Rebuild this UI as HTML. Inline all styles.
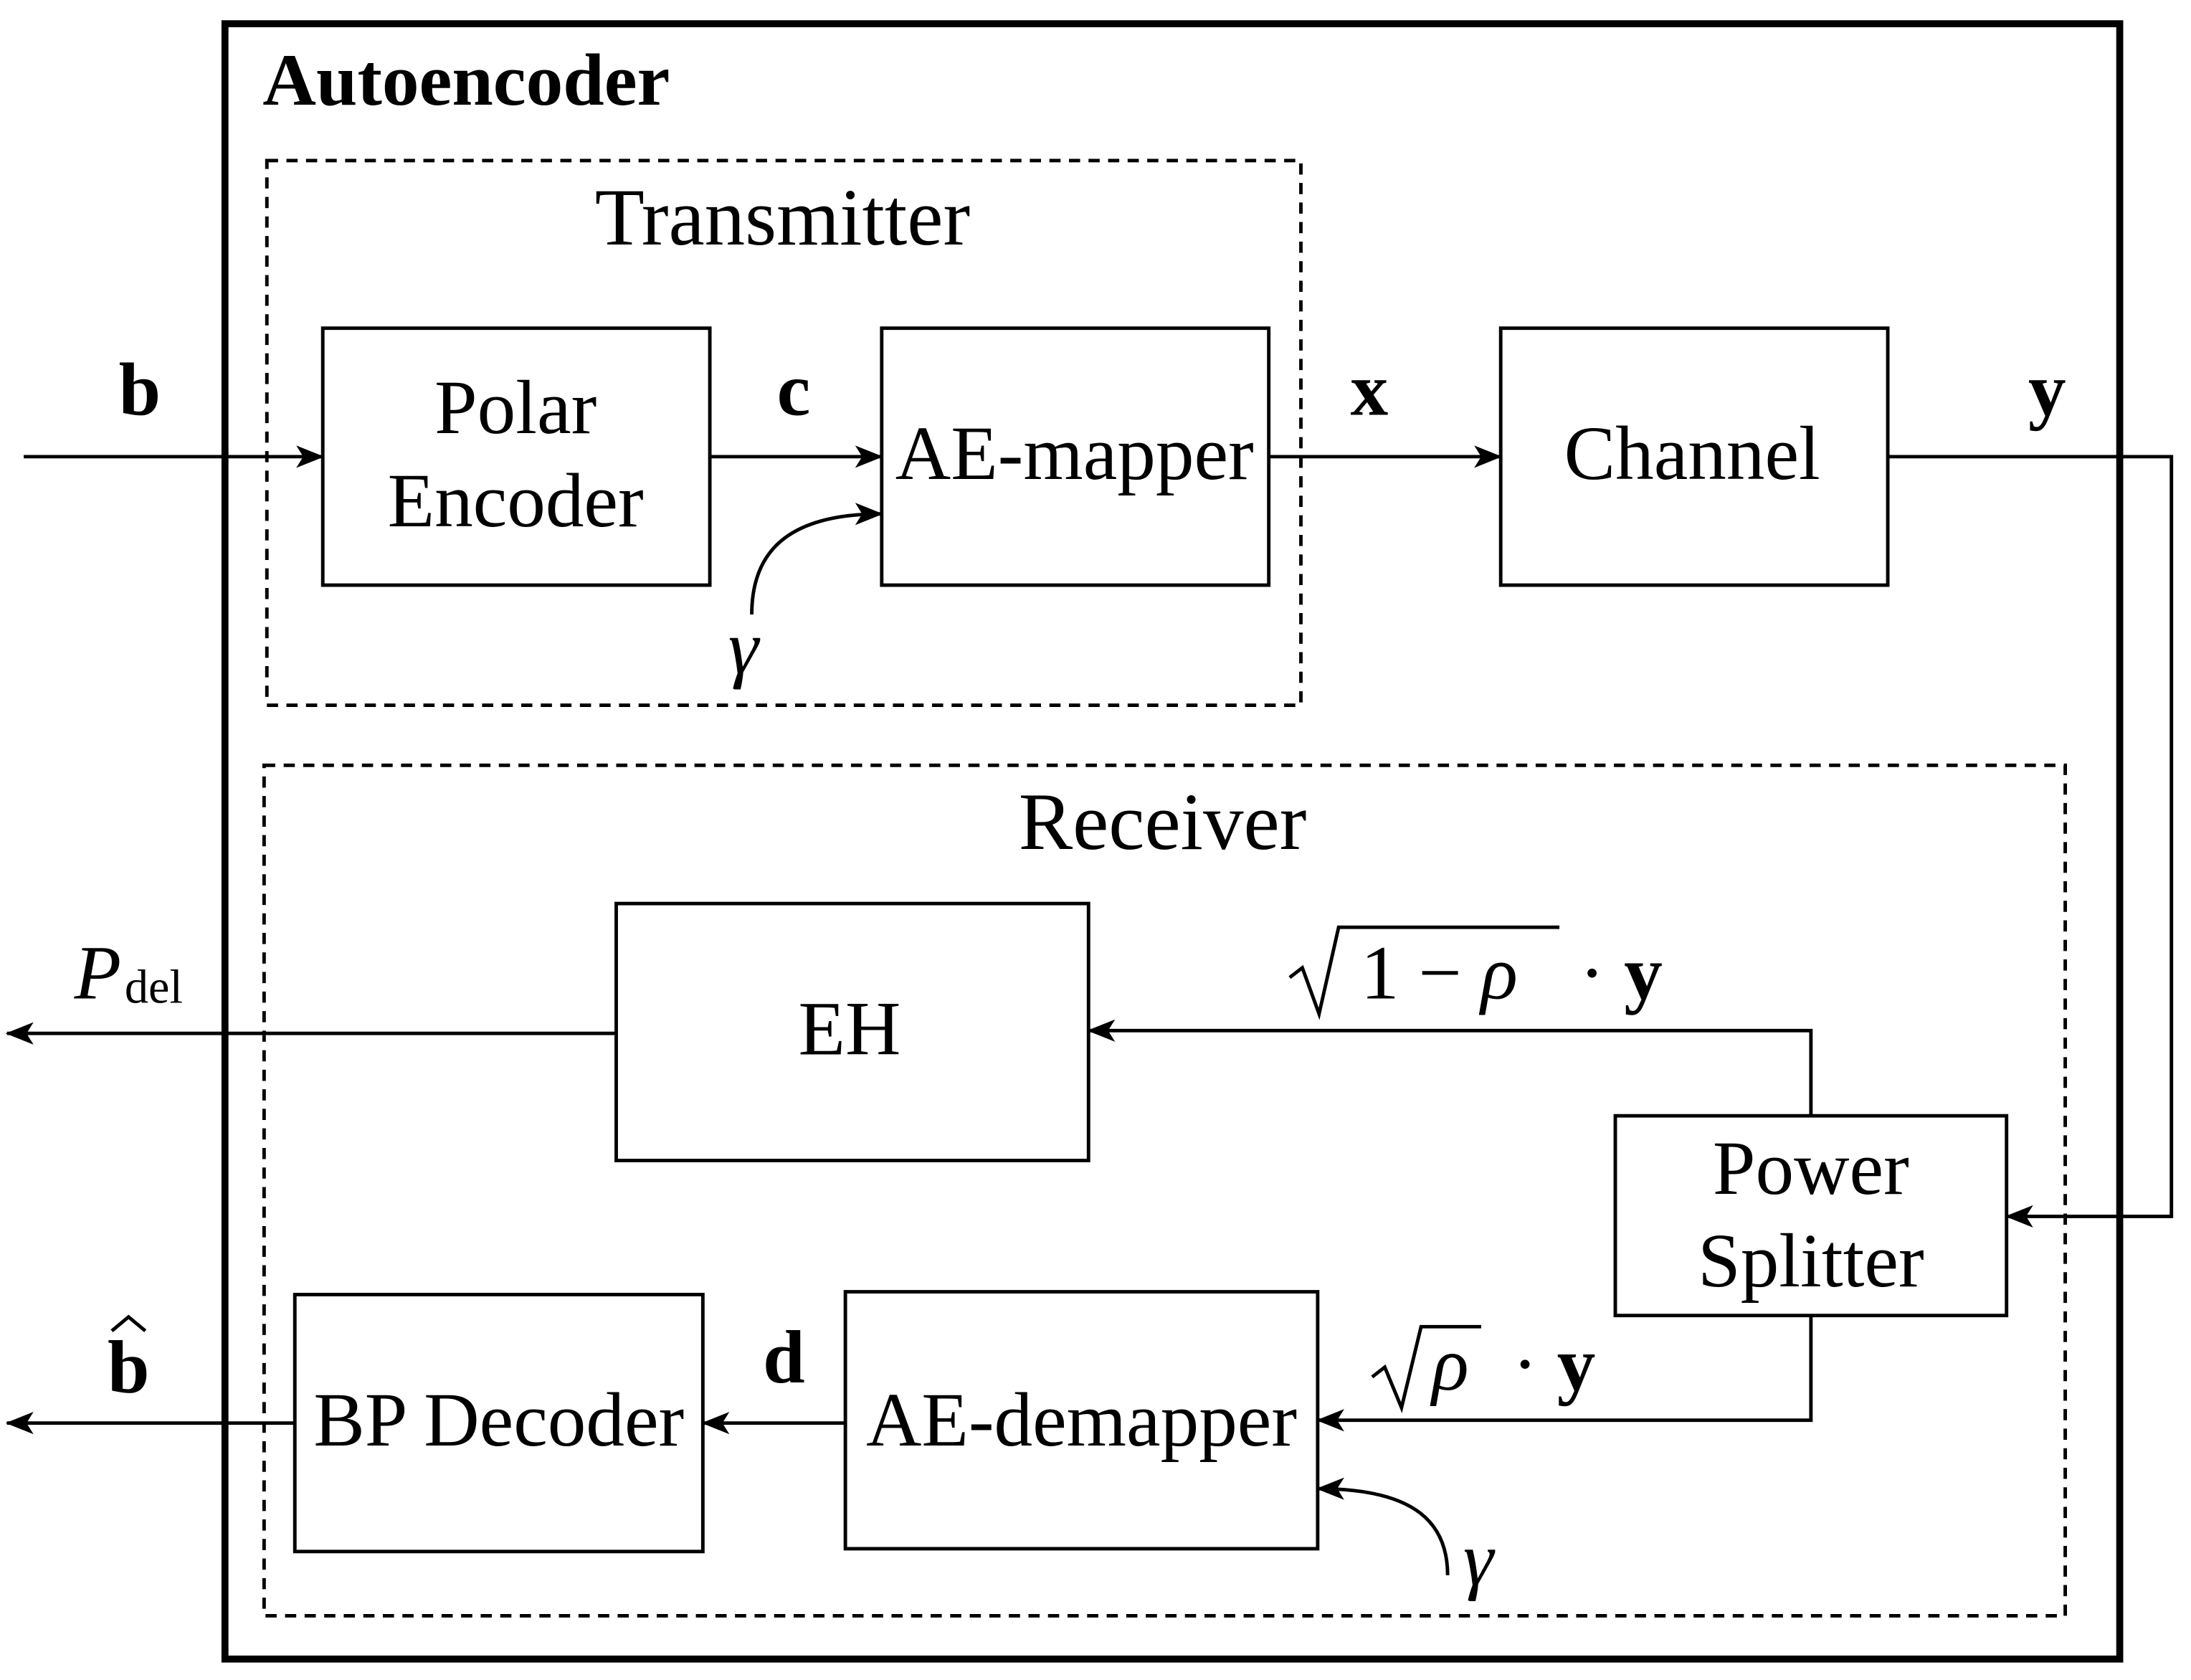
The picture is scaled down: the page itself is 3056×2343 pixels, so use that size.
<!DOCTYPE html>
<html><head><meta charset="utf-8"><style>html,body{margin:0;padding:0;background:#fff}svg{display:block}</style></head>
<body>
<svg width="3056" height="2343" viewBox="0 0 1568 1203" preserveAspectRatio="none" xmlns="http://www.w3.org/2000/svg" font-family="Liberation Serif, serif">
<defs>
<marker id="a" viewBox="0 0 20 16" refX="19" refY="8" markerWidth="20" markerHeight="16" markerUnits="userSpaceOnUse" orient="auto">
<path d="M0,0 L20,8 L0,16 L5,8 Z" fill="#000"/>
</marker>
</defs>
<g fill="none" stroke="#000">
<rect x="161" y="17" width="1356" height="1171" stroke-width="5"/>
<rect x="191" y="115" width="740" height="390" stroke-width="2.5" stroke-dasharray="8,6"/>
<rect x="189" y="548" width="1289" height="609" stroke-width="2.5" stroke-dasharray="8,6"/>
<g stroke-width="2.5">
<rect x="231" y="235" width="277" height="184"/>
<rect x="631" y="235" width="277" height="184"/>
<rect x="1074" y="235" width="277" height="184"/>
<rect x="441" y="647" width="338" height="184"/>
<rect x="1156" y="799" width="280" height="143"/>
<rect x="605" y="925" width="338" height="184"/>
<rect x="211" y="927" width="292" height="184"/>
<path d="M17,327 H231" marker-end="url(#a)"/>
<path d="M508,327 H631" marker-end="url(#a)"/>
<path d="M908,327 H1074" marker-end="url(#a)"/>
<path d="M538,440 C538,390 570,368 631,368" marker-end="url(#a)"/>
<path d="M1351,327 H1554 V871 H1436" marker-end="url(#a)"/>
<path d="M1296,799 V738 H779" marker-end="url(#a)"/>
<path d="M1296,942 V1017 H943" marker-end="url(#a)"/>
<path d="M605,1019 H503" marker-end="url(#a)"/>
<path d="M211,1019 H5" marker-end="url(#a)"/>
<path d="M441,740 H5" marker-end="url(#a)"/>
<path d="M1036,1128 C1036,1085 1005,1066 943,1066" marker-end="url(#a)"/>
<path d="M923,700 L932,693 L944,726 L958,664 H1116" />
<path d="M982,986 L991,979 L1003,1008 L1017,950 H1060" />
</g>
</g>
<g fill="#000" font-size="55" text-anchor="middle">
<text x="188" y="75" text-anchor="start" font-weight="bold" font-size="53">Autoencoder</text>
<text x="560" y="175" font-size="58">Transmitter</text>
<text x="369" y="310">Polar</text>
<text x="369" y="377">Encoder</text>
<text x="769" y="343">AE-mapper</text>
<text x="1211" y="343">Channel</text>
<text x="100" y="297" font-weight="bold" font-size="54">b</text>
<text x="568" y="297" font-weight="bold" font-size="54">c</text>
<text x="980" y="297" font-weight="bold" font-size="54">x</text>
<text x="1465" y="297" font-weight="bold" font-size="54">y</text>
<text x="532" y="482" font-style="italic">γ</text>
<text x="832" y="608" font-size="58">Receiver</text>
<text x="608" y="755">EH</text>
<text x="1296" y="855">Power</text>
<text x="1296" y="921">Splitter</text>
<text x="774" y="1035">AE-demapper</text>
<text x="357" y="1035">BP Decoder</text>
<text x="561" y="990" font-weight="bold" font-size="54">d</text>
<text x="92" y="997" font-weight="bold" font-size="54">b</text>
<path d="M80,953 L92,943 L104,953" fill="none" stroke="#000" stroke-width="2.5"/>
<text x="70" y="715" font-style="italic">P</text>
<text x="110" y="718" font-size="34">del</text>
<text x="1058" y="1135" font-style="italic">γ</text>
<text x="1030" y="715">1 − <tspan font-style="italic">ρ</tspan></text>
<text x="1160" y="715"><tspan>·</tspan> <tspan font-weight="bold">y</tspan></text>
<text x="1038" y="995" font-style="italic">ρ</text>
<text x="1112" y="995">· <tspan font-weight="bold">y</tspan></text>
</g>
</svg>
</body></html>
